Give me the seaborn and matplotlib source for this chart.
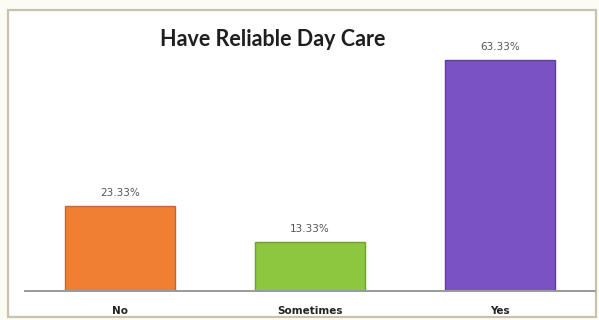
import matplotlib
matplotlib.use("Agg")
import matplotlib.pyplot as plt
from matplotlib.patches import Rectangle
import seaborn as sns
import pandas as pd

# Survey responses: share of respondents with reliable day care
categories = ["No", "Sometimes", "Yes"]
percentages = [23.33, 13.33, 63.33]
bar_colors = ["#f07f33", "#8dc63f", "#7b52c3"]
edge_colors = ["#c9652a", "#6f9e33", "#5e3e9c"]
title = "Have Reliable Day Care"

df = pd.DataFrame({"answer": categories, "pct": percentages})

sns.set_theme(style="white")
plt.rcParams["font.family"] = ["Lato", "DejaVu Sans"]

W, H = 599, 320
fig = plt.figure(figsize=(W / 100, H / 100), dpi=100)
fig.patch.set_facecolor("#fdfcf4")

# framed white chart area, drawn beneath the axes
frame = Rectangle((8 / W, 3 / H), 588 / W, 307 / H, transform=fig.transFigure,
                  facecolor="white", edgecolor="#c9c2ae", linewidth=1.6, zorder=-5)
fig.patches.append(frame)

ymax = 70
base_y = 291
px_per_unit = 3.64
ax = fig.add_axes([25 / W, (H - base_y) / H, 570 / W, ymax * px_per_unit / H])
ax.set_zorder(2)
ax.set_facecolor("none")

sns.barplot(data=df, x="answer", y="pct", hue="answer", palette=bar_colors,
            legend=False, width=0.58, ax=ax, saturation=1)
for patch, ec in zip(ax.patches, edge_colors):
    patch.set_edgecolor(ec)
    patch.set_linewidth(1.0)

for container in ax.containers:
    ax.bar_label(container, labels=[f"{v:.2f}%" for v in container.datavalues],
                 padding=6, fontsize=7.5, color="#555555", family="DejaVu Sans")

ax.set_xlim(-0.5, 2.5)
ax.set_ylim(0, ymax)
ax.set_xlabel("")
ax.set_ylabel("")
ax.set_yticks([])
ax.tick_params(axis="x", length=0, pad=11, labelsize=7.5, labelcolor="#222222")
for lbl in ax.get_xticklabels():
    lbl.set_fontweight("bold")
    lbl.set_family("DejaVu Sans")
for side in ["left", "right", "top"]:
    ax.spines[side].set_visible(False)
ax.spines["bottom"].set_color("#9a9a9a")
ax.spines["bottom"].set_linewidth(1.4)

fig.text(273 / W, 1 - 39 / H, title, ha="center", va="center",
         fontsize=15.5, fontweight="bold", color="#1e1e1e", zorder=3)

fig.savefig("out.png", dpi=100, facecolor=fig.get_facecolor())
